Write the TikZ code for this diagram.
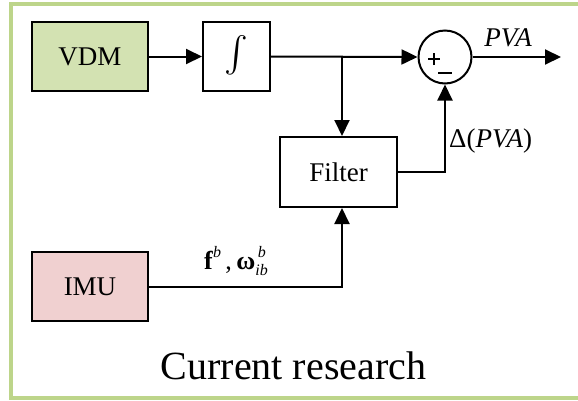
\documentclass[tikz,border=0pt]{standalone}
\usepackage{fontspec}
\usepackage{graphicx}
\setmainfont{Liberation Serif}
\usetikzlibrary{arrows.meta,calc}

\definecolor{framegreen}{RGB}{189,213,138}
\definecolor{vdmfill}{RGB}{211,226,178}
\definecolor{imufill}{RGB}{240,208,208}

\tikzset{
  blockbox/.style={draw=black, line width=2pt, minimum width=116pt, minimum height=69pt,
    inner sep=0pt, font=\fontsize{27}{27}\selectfont},
  arr/.style={line width=2pt, -{Triangle[length=16pt,width=15pt]}},
  lbl/.style={inner sep=0pt, font=\fontsize{27}{27}\selectfont},
  signmark/.style={inner sep=0pt, outer sep=0pt},
}

\begin{document}
\begin{tikzpicture}[x=1pt,y=-1pt]
  \useasboundingbox (0,0) rectangle (578,400);
  \fill[white] (0,0) rectangle (578,400);

  % outer frame (open on the right)
  \draw[framegreen, line width=4.5pt] (620,4) -- (11,4) -- (11,398) -- (620,398);

  % blocks
  \node[blockbox, fill=vdmfill] (vdm) at (90,56.5) {VDM};
  \node[blockbox, minimum width=67pt] (integ) at (236.5,56.5)
    {\resizebox{!}{42pt}{$\int$}};
  \node[draw=black, line width=2pt, circle, minimum size=53pt, inner sep=0pt] (sum) at (445,57) {};
  \node[signmark] (plus) at (431.5,59)
    {\rule{12pt}{2pt}\hspace{-7pt}\rule[-5pt]{2pt}{12pt}\hspace{5pt}};
  \node[signmark] (minus) at (445,73) {\rule{14pt}{2.2pt}};
  \node[blockbox, minimum width=117pt, minimum height=70pt] (filt) at (338.5,172) {Filter};
  \node[blockbox, fill=imufill] (imu) at (90,286.5) {IMU};

  % connection points
  \coordinate (j) at (342,57);
  \coordinate (out) at (561,57);

  % connectors
  \draw[arr] (vdm.east) -- (integ.west);
  \draw[arr] (integ.east) -- (sum.west);
  \draw[arr] (j) -- (j |- filt.north);
  \draw[arr] (sum.east) -- (out);
  \draw[arr] (filt.east) -| (sum.south);
  \draw[arr] (imu.east) -| (j |- filt.south);

  % signal labels
  \node[lbl] (pva) at (508,38) {\itshape PVA};
  \node[lbl, anchor=west] (dpva) at (449,141) {Δ(\textit{PVA})};
  \node[lbl, font=\fontsize{26}{26}\selectfont] (fw) at (236,261)
    {\textbf{f}\raisebox{1.0ex}{\fontsize{16}{16}\selectfont\itshape b}\,,\,\textbf{ω}\rlap{\raisebox{1.0ex}{\fontsize{16}{16}\selectfont\itshape\,b}}\raisebox{-0.5ex}{\fontsize{16}{16}\selectfont\itshape ib}};

  % caption
  \node[inner sep=0pt, font=\fontsize{40}{40}\selectfont] (cap) at (293.5,366) {Current research};
\end{tikzpicture}
\end{document}
